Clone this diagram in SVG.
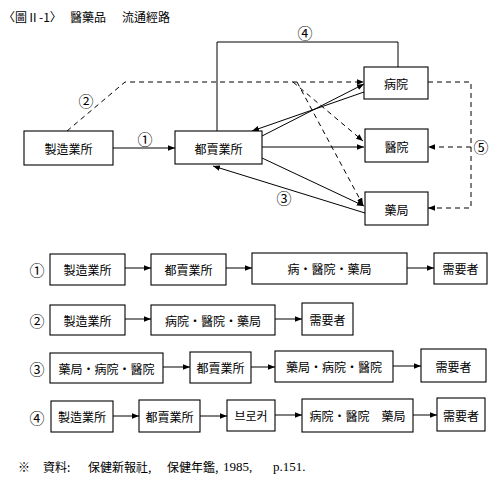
<svg xmlns="http://www.w3.org/2000/svg" width="496" height="478" viewBox="0 0 496 478">
<defs>
<style>
.b{fill:#fff;stroke:#000;stroke-width:1.1}
.t{font-family:"Noto Sans CJK KR","Noto Sans CJK TC",sans-serif;font-size:12px;fill:#000;text-anchor:middle;dominant-baseline:central}
.h{font-family:"Noto Sans CJK KR","Noto Sans CJK TC",sans-serif;font-size:12px;fill:#000;dominant-baseline:central}
.s{font-family:"Liberation Serif",serif;font-size:13px;fill:#000;dominant-baseline:central}
.n{font-family:"Noto Sans CJK KR","DejaVu Sans",sans-serif;font-size:15px;fill:#000;text-anchor:middle;dominant-baseline:central}
.l{fill:none;stroke:#000;stroke-width:1}
.d{fill:none;stroke:#000;stroke-width:1;stroke-dasharray:5,4}
</style>
<marker id="a" viewBox="0 0 10 10" refX="10" refY="5" markerWidth="7" markerHeight="7" orient="auto" markerUnits="userSpaceOnUse"><path d="M0,1 L10,5 L0,9 Z" fill="#000"/></marker>
</defs>
<g id="title">
<text class="h" x="3" y="16" font-size="13">〈圖Ⅱ-1〉</text>
<text class="h" x="70" y="16" font-size="13">醫藥品</text>
<text class="h" x="122" y="16" font-size="13">流通經路</text>
</g>

<g id="connectors">
<line class="l" x1="113" y1="148" x2="175" y2="148" marker-end="url(#a)"/>
<line class="l" x1="262" y1="136" x2="364" y2="84" marker-end="url(#a)"/>
<line class="l" x1="364" y1="92" x2="252" y2="131" marker-end="url(#a)"/>
<line class="l" x1="262" y1="147" x2="364" y2="147" marker-end="url(#a)"/>
<line class="l" x1="262" y1="158" x2="364" y2="206" marker-end="url(#a)"/>
<line class="l" x1="365" y1="213" x2="213" y2="166" marker-end="url(#a)"/>
<polyline class="l" points="217,131 217,42 398,42 398,67"/>
<polyline class="d" points="67,131 125,82 364,82" marker-end="url(#a)"/>
<line class="d" x1="293" y1="82" x2="363" y2="141" marker-end="url(#a)"/>
<line class="d" x1="297" y1="82" x2="363" y2="205" marker-end="url(#a)"/>
<polyline class="d" points="428,82 471,82 471,208 428,208" marker-end="url(#a)"/>
<line class="d" x1="471" y1="147" x2="428" y2="147" marker-end="url(#a)"/>

<line class="l" x1="125" y1="268" x2="151" y2="268" marker-end="url(#a)"/>
<line class="l" x1="226" y1="268" x2="252" y2="268" marker-end="url(#a)"/>
<line class="l" x1="407" y1="268" x2="434" y2="268" marker-end="url(#a)"/>
<line class="l" x1="125" y1="319" x2="151" y2="319" marker-end="url(#a)"/>
<line class="l" x1="275" y1="319" x2="302" y2="319" marker-end="url(#a)"/>
<line class="l" x1="163" y1="367" x2="190" y2="367" marker-end="url(#a)"/>
<line class="l" x1="251" y1="367" x2="275" y2="367" marker-end="url(#a)"/>
<line class="l" x1="393" y1="366" x2="421" y2="366" marker-end="url(#a)"/>
<line class="l" x1="113" y1="416" x2="139" y2="416" marker-end="url(#a)"/>
<line class="l" x1="200" y1="416" x2="227" y2="416" marker-end="url(#a)"/>
<line class="l" x1="275" y1="415" x2="302" y2="415" marker-end="url(#a)"/>
<line class="l" x1="413" y1="415" x2="437" y2="415" marker-end="url(#a)"/>
</g>

<g id="labels">
<text class="n" x="145" y="138">①</text>
<text class="n" x="86" y="100">②</text>
<text class="n" x="284" y="197">③</text>
<text class="n" x="305" y="32">④</text>
<text class="n" x="481" y="146">⑤</text>
<text class="n" x="37" y="269">①</text>
<text class="n" x="37" y="320">②</text>
<text class="n" x="37" y="368">③</text>
<text class="n" x="37" y="417">④</text>
</g>

<g id="n_mfg"><rect class="b" x="24" y="131" width="89" height="34"/><text class="t" x="68.5" y="148">製造業所</text></g>
<g id="n_whl"><rect class="b" x="175" y="131" width="87" height="33"/><text class="t" x="218.5" y="148">都賣業所</text></g>
<g id="n_hosp"><rect class="b" x="364" y="67" width="64" height="32"/><text class="t" x="396" y="83">病院</text></g>
<g id="n_clin"><rect class="b" x="365" y="129" width="63" height="33"/><text class="t" x="396.5" y="146">醫院</text></g>
<g id="n_phar"><rect class="b" x="365" y="192" width="63" height="33"/><text class="t" x="396.5" y="209">藥局</text></g>

<g id="r1a"><rect class="b" x="50" y="254" width="75" height="31"/><text class="t" x="87.5" y="269">製造業所</text></g>
<g id="r1b"><rect class="b" x="151" y="254" width="75" height="31"/><text class="t" x="188.5" y="269">都賣業所</text></g>
<g id="r1c"><rect class="b" x="252" y="253" width="155" height="31"/><text class="t" x="329.5" y="268">病・醫院・藥局</text></g>
<g id="r1d"><rect class="b" x="434" y="253" width="53" height="31"/><text class="t" x="460.5" y="268">需要者</text></g>

<g id="r2a"><rect class="b" x="50" y="305" width="75" height="30"/><text class="t" x="87.5" y="320">製造業所</text></g>
<g id="r2b"><rect class="b" x="151" y="305" width="124" height="30"/><text class="t" x="213" y="320">病院・醫院・藥局</text></g>
<g id="r2c"><rect class="b" x="302" y="303" width="51" height="32"/><text class="t" x="327.5" y="319">需要者</text></g>

<g id="r3a"><rect class="b" x="50" y="353" width="113" height="30"/><text class="t" x="106.5" y="368">藥局・病院・醫院</text></g>
<g id="r3b"><rect class="b" x="190" y="352" width="61" height="31"/><text class="t" x="220.5" y="367">都賣業所</text></g>
<g id="r3c"><rect class="b" x="275" y="351" width="118" height="31"/><text class="t" x="334" y="366">藥局・病院・醫院</text></g>
<g id="r3d"><rect class="b" x="421" y="349" width="65" height="33"/><text class="t" x="453.5" y="366">需要者</text></g>

<g id="r4a"><rect class="b" x="51" y="401" width="62" height="31"/><text class="t" x="82" y="416">製造業所</text></g>
<g id="r4b"><rect class="b" x="139" y="400" width="61" height="32"/><text class="t" x="169.5" y="416">都賣業所</text></g>
<g id="r4c"><rect class="b" x="227" y="400" width="48" height="31"/><text class="t" x="251" y="415">브로커</text></g>
<g id="r4d"><rect class="b" x="302" y="399" width="111" height="33"/><text class="t" x="357.5" y="415">病院・醫院　藥局</text></g>
<g id="r4e"><rect class="b" x="437" y="398" width="48" height="33"/><text class="t" x="461" y="415">需要者</text></g>

<g id="footer">
<text class="h" x="18" y="466">※</text>
<text class="h" x="43" y="466">資料:</text>
<text class="h" x="88" y="466">保健新報社,</text>
<text class="h" x="167" y="466">保健年鑑,</text>
<text class="s" x="223" y="466">1985,</text>
<text class="s" x="273" y="466">p.151.</text>
</g>
</svg>
